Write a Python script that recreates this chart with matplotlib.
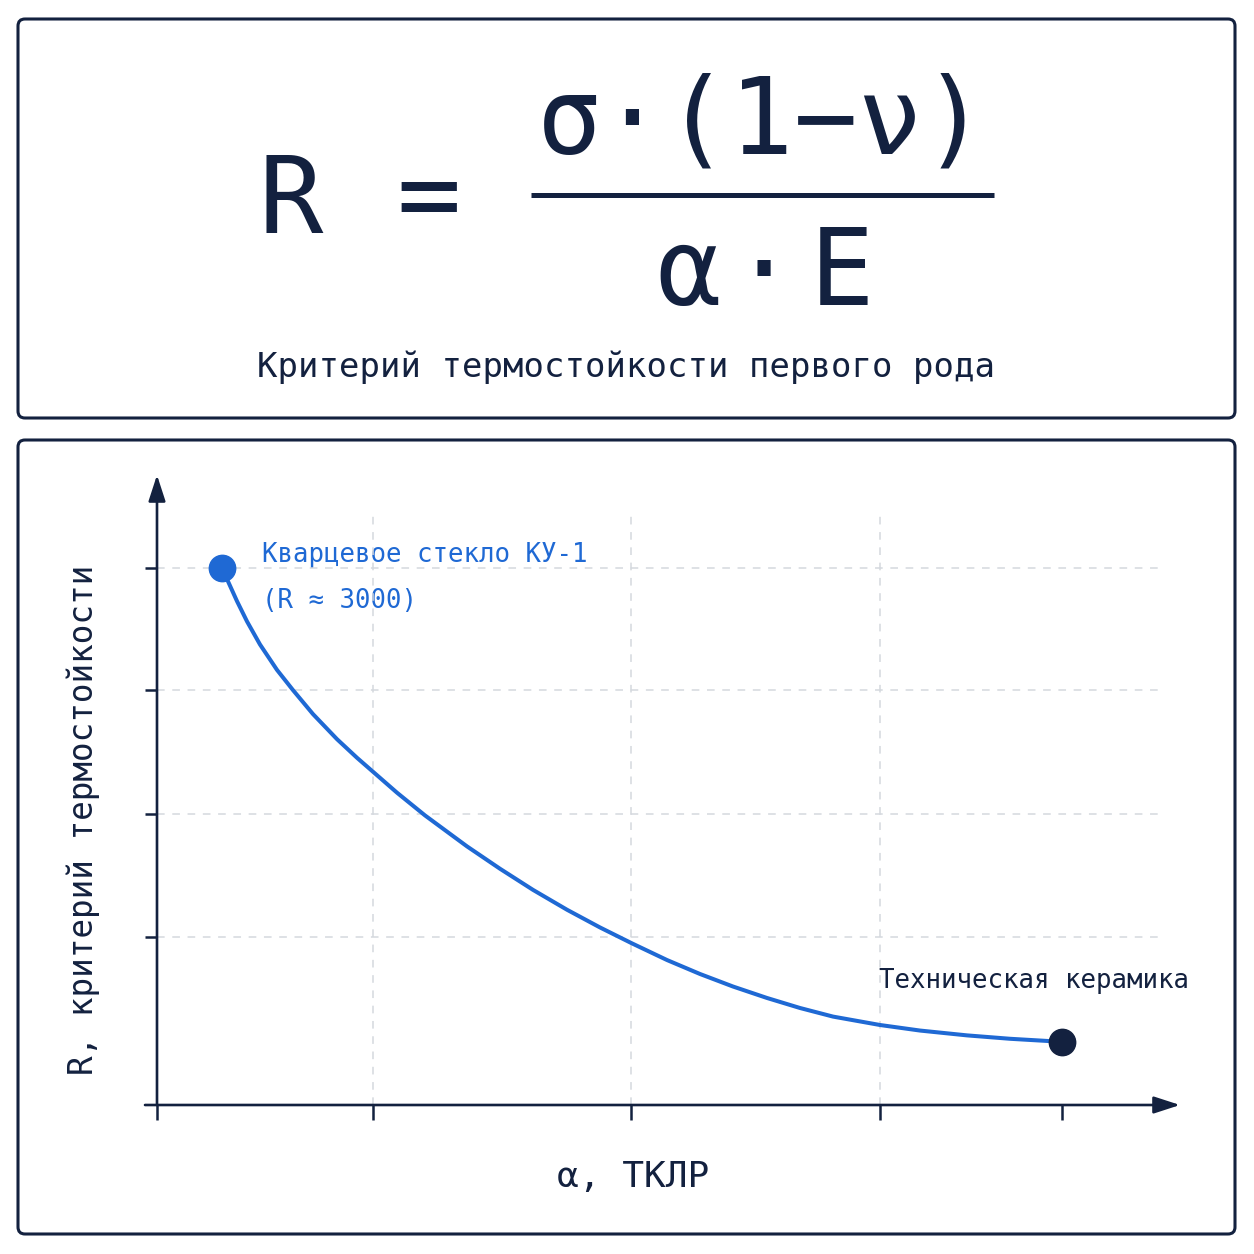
import matplotlib
matplotlib.use("Agg")
import matplotlib.pyplot as plt
from matplotlib.patches import FancyBboxPatch

# ---------------- data ----------------
alpha_pts = [0.65, 0.71, 0.80, 0.90, 1.03, 1.20, 1.36, 1.56, 1.80, 2.00, 2.16, 2.40, 2.68,
             3.10, 3.43, 3.76, 4.10, 4.43, 4.75, 5.10, 5.43, 5.76, 6.10, 6.43, 6.76,
             7.23, 7.63, 8.10, 8.53, 9.05]
R_pts = [3000, 2926, 2815, 2702, 2573, 2431, 2318, 2184, 2044, 1940, 1862, 1745, 1618,
         1445, 1320, 1202, 1091, 992, 903, 810, 732, 662, 598, 542, 494,
         447, 416, 389, 370, 353]
x_ticks = [0, 2.16, 4.74, 7.23, 9.05]
x_grid = [2.16, 4.74, 7.23]
y_ticks = [939, 1626, 2318, 3000]

formula_lhs = "R"
formula_eq = "="
formula_num = "σ·(1−ν)"
formula_den = ["α", "·", "E"]
subtitle = "Критерий термостойкости первого рода"
ylabel = "R, критерий термостойкости"
xlabel = "α, ТКЛР"
label_start = ["Кварцевое стекло КУ-1", "(R ≈ 3000)"]
label_end = "Техническая керамика"

NAVY = "#13213f"
BLUE = "#1f69d4"
GRID = "#d4d8de"
FONT = "DejaVu Sans Mono"

plt.rcParams["font.family"] = [FONT, "DejaVu Sans"]

W = 1254
fig = plt.figure(figsize=(12.54, 12.54), dpi=100)
fig.patch.set_facecolor("white")

# overlay axes in pixel coordinates (y measured from top)
ov = fig.add_axes([0, 0, 1, 1])
ov.set_xlim(0, W)
ov.set_ylim(0, W)
ov.axis("off")
ov.set_zorder(0)


def Y(y):
    return W - y


def box(x0, y0, x1, y1):
    p = FancyBboxPatch((x0, Y(y1)), x1 - x0, y1 - y0,
                       boxstyle="round,pad=0,rounding_size=7",
                       lw=2.2, ec=NAVY, fc="white")
    ov.add_patch(p)


box(18, 19, 1235, 418)
box(18, 440, 1235, 1234)

# formula
ov.text(291, Y(233), formula_lhs, fontsize=77, ha="center", va="baseline", color=NAVY)
ov.text(429, Y(230), formula_eq, fontsize=77, ha="center", va="baseline", color=NAVY)
ov.text(762, Y(153), formula_num, fontsize=77, ha="center", va="baseline", color=NAVY)
ov.plot([531, 994], [Y(195), Y(195)], color=NAVY, lw=3.6, solid_capstyle="butt")
for ch, cx in zip(formula_den, [689, 764, 842]):
    ov.text(cx, Y(305), ch, fontsize=77, ha="center", va="baseline", color=NAVY)
ov.text(626, Y(377), subtitle, fontsize=24.5, ha="center", va="baseline", color=NAVY)

# axis titles and labels
ov.text(83, Y(820), ylabel, fontsize=23.5, rotation=90, ha="center", va="center", color=NAVY)
ov.text(633, Y(1187), xlabel, fontsize=26, ha="center", va="baseline", color=NAVY)
ov.text(262, Y(562), label_start[0], fontsize=18.5, ha="left", va="baseline", color=BLUE)
ov.text(262, Y(608), label_start[1], fontsize=18.5, ha="left", va="baseline", color=BLUE)
ov.text(879, Y(988), label_end, fontsize=18.5, ha="left", va="baseline", color=NAVY)

# ---------------- chart ----------------
ax = fig.add_axes([145 / W, 149 / W, 1035 / W, 630 / W])
ax.set_zorder(1)
ax.patch.set_alpha(0)
ax.set_xlim(-0.12, 10.23)
ax.set_ylim(0, 3520)
for s in ax.spines.values():
    s.set_visible(False)
ax.spines["left"].set_position(("data", 0))
ax.set_xticks(x_ticks)
ax.set_yticks(y_ticks)
ax.tick_params(axis="x", direction="out", length=10.8, width=1.8, color=NAVY, labelbottom=False)
ax.tick_params(axis="y", direction="out", length=8.6, width=1.8, color=NAVY, labelleft=False)

# grid
ax.vlines(x_grid, 0, 3324, colors=GRID, lw=1.1, linestyles=(0, (5, 5)), zorder=1)
ax.hlines(y_ticks, 0, 10.08, colors=GRID, lw=1.1, linestyles=(0, (5, 5)), zorder=1)

# axes arrows
arrow = dict(arrowstyle="-|>,head_length=0.8,head_width=0.26", lw=1.9, color=NAVY,
             mutation_scale=20, shrinkA=0, shrinkB=0, clip_on=False)
ax.annotate("", xy=(10.23, 0), xytext=(-0.12, 0), arrowprops=arrow, annotation_clip=False)
ax.annotate("", xy=(0, 3520), xytext=(0, 0), arrowprops=arrow, annotation_clip=False)

# curve and end points
ax.plot(alpha_pts, R_pts, color=BLUE, lw=2.9, solid_capstyle="round",
        solid_joinstyle="round", zorder=3, clip_on=False)
ax.plot(alpha_pts[0], R_pts[0], "o", ms=19, color=BLUE, zorder=4, clip_on=False)
ax.plot(alpha_pts[-1], R_pts[-1], "o", ms=19, color=NAVY, zorder=4, clip_on=False)

fig.savefig("out.png", dpi=100, facecolor="white")
